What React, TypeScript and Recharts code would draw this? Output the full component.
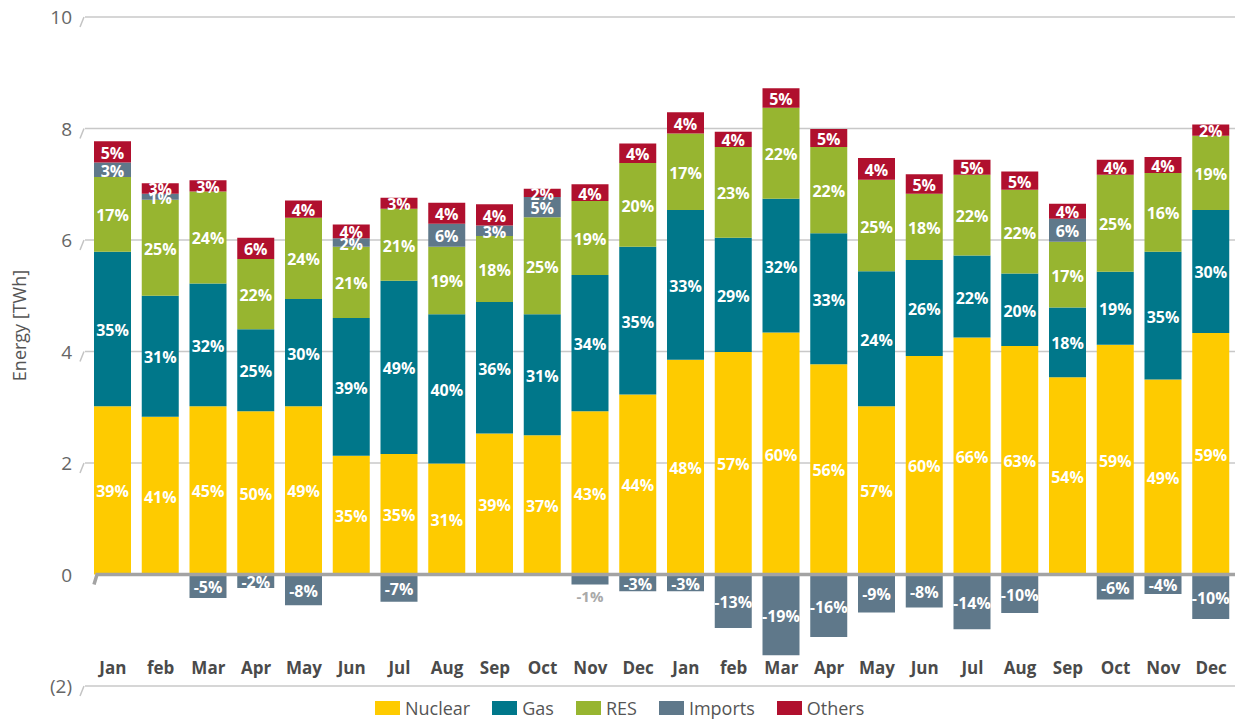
import React from "react";
import {
    BarChart, Bar, XAxis, YAxis, CartesianGrid, Legend, LabelList, ReferenceLine
} from "recharts";

// months, two years back to back
const MONTHS = [
    "Jan", "feb", "Mar", "Apr", "May", "Jun", "Jul", "Aug", "Sep", "Oct", "Nov", "Dec",
    "Jan", "feb", "Mar", "Apr", "May", "Jun", "Jul", "Aug", "Sep", "Oct", "Nov", "Dec",
];

// energy in TWh
const NUCLEAR = [3.02, 2.83, 3.02, 2.93, 3.02, 2.13, 2.16, 1.99, 2.53, 2.50, 2.93, 3.23, 3.85, 3.99, 4.34, 3.77, 3.02, 3.92, 4.25, 4.10, 3.54, 4.12, 3.50, 4.33];
const GAS = [2.77, 2.17, 2.20, 1.47, 1.92, 2.47, 3.11, 2.68, 2.36, 2.17, 2.44, 2.65, 2.69, 2.05, 2.40, 2.35, 2.42, 1.72, 1.47, 1.30, 1.25, 1.31, 2.29, 2.21];
const RES = [1.34, 1.72, 1.65, 1.26, 1.46, 1.28, 1.29, 1.21, 1.18, 1.74, 1.33, 1.50, 1.37, 1.63, 1.63, 1.55, 1.64, 1.19, 1.45, 1.50, 1.18, 1.74, 1.41, 1.33];
const IMPORTS = [0.26, 0.11, -0.42, -0.24, -0.55, 0.15, -0.49, 0.41, 0.19, 0.36, -0.18, -0.30, -0.30, -0.96, -1.45, -1.12, -0.68, -0.59, -0.98, -0.69, 0.41, -0.45, -0.35, -0.80];
const OTHERS = [0.38, 0.19, 0.20, 0.38, 0.31, 0.25, 0.20, 0.38, 0.38, 0.15, 0.30, 0.35, 0.38, 0.27, 0.35, 0.32, 0.39, 0.35, 0.27, 0.33, 0.27, 0.27, 0.29, 0.20];

// share labels printed on the segments (%)
const NUCLEAR_PCT = [39, 41, 45, 50, 49, 35, 35, 31, 39, 37, 43, 44, 48, 57, 60, 56, 57, 60, 66, 63, 54, 59, 49, 59];
const GAS_PCT = [35, 31, 32, 25, 30, 39, 49, 40, 36, 31, 34, 35, 33, 29, 32, 33, 24, 26, 22, 20, 18, 19, 35, 30];
const RES_PCT = [17, 25, 24, 22, 24, 21, 21, 19, 18, 25, 19, 20, 17, 23, 22, 22, 25, 18, 22, 22, 17, 25, 16, 19];
const IMPORTS_PCT = [3, 1, -5, -2, -8, 2, -7, 6, 3, 5, -1, -3, -3, -13, -19, -16, -9, -8, -14, -10, 6, -6, -4, -10];
const OTHERS_PCT = [5, 3, 3, 6, 4, 4, 3, 4, 4, 2, 4, 4, 4, 4, 5, 5, 4, 5, 5, 5, 4, 4, 4, 2];

const Y_TICKS = [-2, 0, 2, 4, 6, 8, 10];

const SERIES = [
    { key: "nuclear", name: "Nuclear", color: "#fecb00" },
    { key: "gas", name: "Gas", color: "#00778a" },
    { key: "res", name: "RES", color: "#97b530" },
    { key: "imports", name: "Imports", color: "#5f788a" },
    { key: "others", name: "Others", color: "#b0102e" },
];

const data = MONTHS.map((m, i) => ({
    month: m,
    nuclear: NUCLEAR[i], gas: GAS[i], res: RES[i], imports: IMPORTS[i], others: OTHERS[i],
    nuclearPct: NUCLEAR_PCT[i], gasPct: GAS_PCT[i], resPct: RES_PCT[i],
    importsPct: IMPORTS_PCT[i], othersPct: OTHERS_PCT[i],
}));

const FONT = "'Open Sans', 'DejaVu Sans', sans-serif";

// eslint-disable-next-line @typescript-eslint/no-explicit-any
const SegmentLabel = (props: any) => {
    const { x, y, width, height, value } = props;
    if (value === undefined || value === null) return null;
    const cx = x + width / 2;
    const top = Math.min(y, y + height);
    const bottom = Math.max(y, y + height);
    // tiny negative bar: label hangs below it in grey
    if (value < 0 && Math.abs(value) <= 1) {
        return (
            <text x={cx} y={bottom + 11} textAnchor="middle" dominantBaseline="central"
                fill="#a9a9a9" fontFamily={FONT} fontWeight={700} fontSize={15}>
                {`${value}%`}
            </text>
        );
    }
    return (
        <text x={cx} y={(top + bottom) / 2 + 1} textAnchor="middle" dominantBaseline="central"
            fill="#ffffff" fontFamily={FONT} fontWeight={700} fontSize={16}>
            {`${value}%`}
        </text>
    );
};

// eslint-disable-next-line @typescript-eslint/no-explicit-any
const YTick = (props: any) => {
    const { x, y, payload } = props;
    const v = payload.value;
    const label = v < 0 ? `(${Math.abs(v)})` : `${v}`;
    return (
        <g>
            <text x={x - 5} y={y} textAnchor="end" dominantBaseline="central"
                fill="#666" fontFamily={FONT} fontSize={19}>
                {label}
            </text>
            {v !== 0 && (
                <line x1={x + 3} y1={y + 10} x2={x + 7} y2={y} stroke="#c4c4c4" strokeWidth={1.5} />
            )}
        </g>
    );
};

// eslint-disable-next-line @typescript-eslint/no-explicit-any
const XTick = (props: any) => {
    const { x, y, payload } = props;
    return (
        <text x={x} y={y - 20} textAnchor="middle" fill="#4a4a4a"
            fontFamily={FONT} fontWeight={700} fontSize={17}>
            {payload.value}
        </text>
    );
};

// eslint-disable-next-line @typescript-eslint/no-explicit-any
const ZeroLine = (props: any) => {
    const { x1, y1, x2 } = props;
    return (
        <path d={`M${x1 + 9},${y1 + 10} L${x1 + 12},${y1} L${x2},${y1}`}
            fill="none" stroke="#a3a3a3" strokeWidth={3.5} />
    );
};

const LegendContent = () => (
    <div style={{ display: "flex", alignItems: "center", fontFamily: FONT, fontSize: 18, lineHeight: "18px", color: "#555" }}>
        {SERIES.map(s => (
            <div key={s.key} style={{ display: "flex", alignItems: "center", marginRight: 22 }}>
                <span style={{ display: "inline-block", width: 25, height: 14, background: s.color, marginRight: 5 }} />
                <span>{s.name}</span>
            </div>
        ))}
    </div>
);

export default function App() {
    return (
        <div style={{ position: "absolute", left: 0, top: 0, background: "#fff" }}>
            <BarChart
                width={1239}
                height={719}
                data={data}
                stackOffset="sign"
                margin={{ top: 17, right: 4, left: 0, bottom: 3 }}
            >
                <CartesianGrid vertical={false} horizontalValues={[-2, 2, 4, 6, 8, 10]} stroke="#c8c8c8" strokeWidth={1.5} />
                <XAxis dataKey="month" axisLine={false} tickLine={false} tick={<XTick />}
                    interval={0} height={30} padding={{ left: 4, right: 0 }} />
                <YAxis domain={[-2, 10]} ticks={Y_TICKS} width={85} axisLine={false} tickLine={false}
                    tick={<YTick />}
                    label={{
                        value: "Energy [TWh]", angle: -90, position: "insideLeft", offset: 0,
                        dx: 20, dy: -26, fill: "#555", fontSize: 18, fontFamily: FONT,
                        style: { textAnchor: "middle" },
                    }} />
                {SERIES.map(s => (
                    <Bar key={s.key} dataKey={s.key} name={s.name} stackId="a" fill={s.color}
                        barSize={37} isAnimationActive={false}>
                        <LabelList dataKey={`${s.key}Pct`} content={<SegmentLabel />} />
                    </Bar>
                ))}
                <ReferenceLine y={0} shape={<ZeroLine />} />
                <Legend layout="horizontal" verticalAlign="middle" align="center"
                    wrapperStyle={{ top: 699, left: 375, width: "auto" }}
                    content={<LegendContent />} />
            </BarChart>
        </div>
    );
}
